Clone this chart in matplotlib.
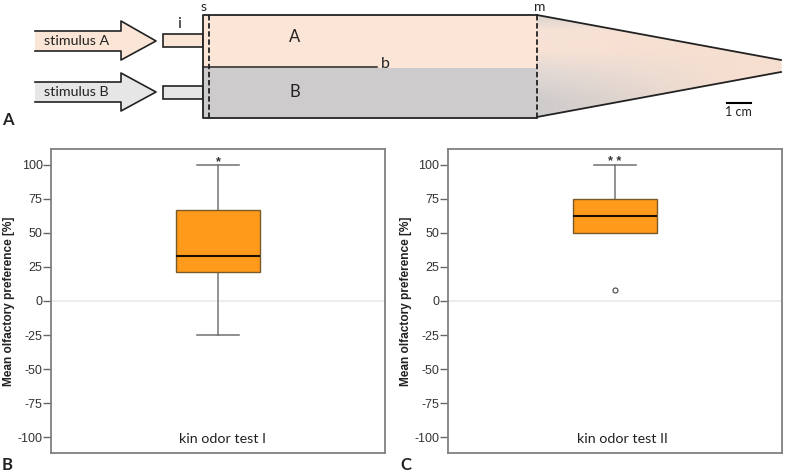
import numpy as np
import matplotlib
matplotlib.use('Agg')
import matplotlib.pyplot as plt
from matplotlib.patches import Polygon, Rectangle
from matplotlib.colors import to_rgb

W, H = 787, 472

# box plot values
labels = ['kin odor test I', 'kin odor test II']
stars = ['*', '* *']
whisker_low = [-25, 50]
q1 = [21, 50]
median = [33.3, 62.5]
q3 = [66.7, 75]
whisker_high = [100, 100]
outliers = [[], [8.3]]
y_ticks = [100, 75, 50, 25, 0, -25, -50, -75, -100]

# schematic geometry, in image pixels
arrow_a = [(35, 31), (121, 31), (121, 21), (156, 41), (121, 60), (121, 51), (35, 51)]
arrow_b = [(35, 82), (121, 82), (121, 73), (156, 92), (121, 111), (121, 102), (35, 102)]
cone = [(537, 15), (781, 60), (782, 66), (781, 72), (537, 117)]

# colour of the cone at its left end, top to bottom
cone_stops_y = [15, 30, 50, 72, 100, 117]
cone_stops_col = ['#D9D2CE', '#F6E3D7', '#F8E2D5', '#E2D9D5', '#CFCCCC', '#CDCBCB']
cone_tip_col = '#F6DFD0'

PEACH = '#FBE5D6'
GREY = '#CDCBCB'
LIGHT = '#E7E6E6'
DARK = '#222222'
ORANGE = '#FF9A1A'
plt.rcParams['font.family'] = ['Lato', 'DejaVu Sans']

fig = plt.figure(figsize=(W / 100, H / 100), dpi=100)

# whole figure axes in pixels for the drawing and the panel letters
bg = fig.add_axes([0, 0, 1, 1])
bg.set_xlim(0, W)
bg.set_ylim(H, 0)
bg.axis('off')

for pts, col in [(arrow_a, PEACH), (arrow_b, LIGHT)]:
    bg.add_patch(Polygon(pts, closed=True, fc=col, ec='none'))
    xy = np.array(pts)
    bg.plot(xy[:, 0], xy[:, 1], color=DARK, lw=1.2)

bg.add_patch(Rectangle((162.5, 33.5), 40, 13.5, fc=PEACH, ec=DARK, lw=1.2))
bg.add_patch(Rectangle((162.5, 85.5), 40, 13.5, fc=LIGHT, ec=DARK, lw=1.2))

bg.add_patch(Rectangle((202.5, 15), 334, 52.5, fc=PEACH, ec='none'))
bg.add_patch(Rectangle((202.5, 67.5), 334, 50, fc=GREY, ec='none'))
bg.plot([536.5, 202.5, 202.5, 536.5], [15, 15, 117.5, 117.5], color=DARK, lw=1.3)
bg.plot([202.5, 376.5], [67, 67], color=DARK, lw=1.1)
bg.plot([209, 209], [15, 117.5], color=DARK, lw=1.3, ls=(0, (3, 1.5)))
bg.plot([536.5, 536.5], [15, 117.5], color=DARK, lw=1.3, ls=(0, (3, 1.5)))

# cone fading to peach towards the tip
ys = np.arange(15, 118)
xs = np.arange(537, 783)
left = np.array([np.interp(ys, cone_stops_y, [to_rgb(c)[k] for c in cone_stops_col]) for k in range(3)]).T
tip = np.array(to_rgb(cone_tip_col))
t = np.clip((xs - 537) / 200.0, 0, 1)[None, :, None]
img = left[:, None, :] * (1 - t) + tip * t
im = bg.imshow(img, extent=(537, 782, 117, 15), aspect='auto', zorder=1)
clip = Polygon(cone, closed=True, transform=bg.transData, fc='none', ec='none')
bg.add_patch(clip)
im.set_clip_path(clip)
bg.set_xlim(0, W)
bg.set_ylim(H, 0)
bg.plot([537, 781], [15, 60], color=DARK, lw=1.3, zorder=2)
bg.plot([537, 781], [117, 72], color=DARK, lw=1.3, zorder=2)

bg.plot([727, 751], [103, 103], color='black', lw=1.5)

bg.text(44, 45, 'stimulus A', fontsize=10.3, color=DARK, ha='left', va='baseline')
bg.text(44, 96.5, 'stimulus B', fontsize=10.3, color=DARK, ha='left', va='baseline')
for x, y, s, size in [(295, 41.5, 'A', 12), (295, 97, 'B', 12),
                      (179, 28, 'i', 11.5), (204, 11, 's', 10),
                      (539.5, 11, 'm', 10), (385, 68.5, 'b', 11.5)]:
    bg.text(x, y, s, fontsize=size, color=DARK, ha='center', va='baseline')
bg.text(738, 112, '1 cm', fontsize=9, color=DARK, ha='center', va='center')

for x, y, s in [(2, 120, 'A'), (2, 465, 'B'), (400, 465, 'C')]:
    bg.text(x, y, s, fontsize=12, fontweight='bold', color=DARK, ha='left', va='center')

# box plot panels
for i, (x0, x1) in enumerate([(51, 385), (447.7, 782)]):
    top, bottom = 149, 452.7
    ax = fig.add_axes([x0 / W, 1 - bottom / H, (x1 - x0) / W, (bottom - top) / H])
    stats = [dict(whislo=whisker_low[i], q1=q1[i], med=median[i], q3=q3[i],
                  whishi=whisker_high[i], fliers=outliers[i])]
    ax.axhline(0, color='#EDEDED', lw=1.4, zorder=1)
    ax.bxp(stats, positions=[0], widths=[0.25], patch_artist=True, showcaps=True,
           boxprops=dict(facecolor=ORANGE, edgecolor='#7A5A2A', lw=1.0, zorder=3),
           medianprops=dict(color='#1A1000', lw=1.5, zorder=4),
           whiskerprops=dict(color='#808080', lw=1.2, zorder=2),
           capprops=dict(color='#707070', lw=1.1, zorder=2),
           flierprops=dict(marker='o', ms=3.6, mfc='white', mec='#444444', mew=0.8))
    ax.set_xlim(-0.5, 0.5)
    ax.set_ylim(-111.3, 111.5)
    ax.set_xticks([])
    ax.set_yticks(y_ticks)
    ax.set_yticklabels([str(v) for v in y_ticks], family='Liberation Sans', fontsize=9, color='#333333')
    ax.tick_params(axis='y', length=6, width=1.0, color='#666666', pad=0)
    ax.set_ylabel('Mean olfactory preference [%]', family='Liberation Sans', fontweight='bold',
                  fontsize=8.6, color='#222222', labelpad=2)
    for sp in ax.spines.values():
        sp.set_color('#808080')
        sp.set_linewidth(1.3)
    ax.text(0, 102, stars[i], ha='center', va='center', fontsize=9, color='#333333',
            family='Liberation Sans', fontweight='bold')
    ax.text(0.012 + 0.012 * i, -101.5, labels[i], ha='center', va='center', fontsize=10.3, color=DARK)

fig.savefig('out.png', dpi=100)
